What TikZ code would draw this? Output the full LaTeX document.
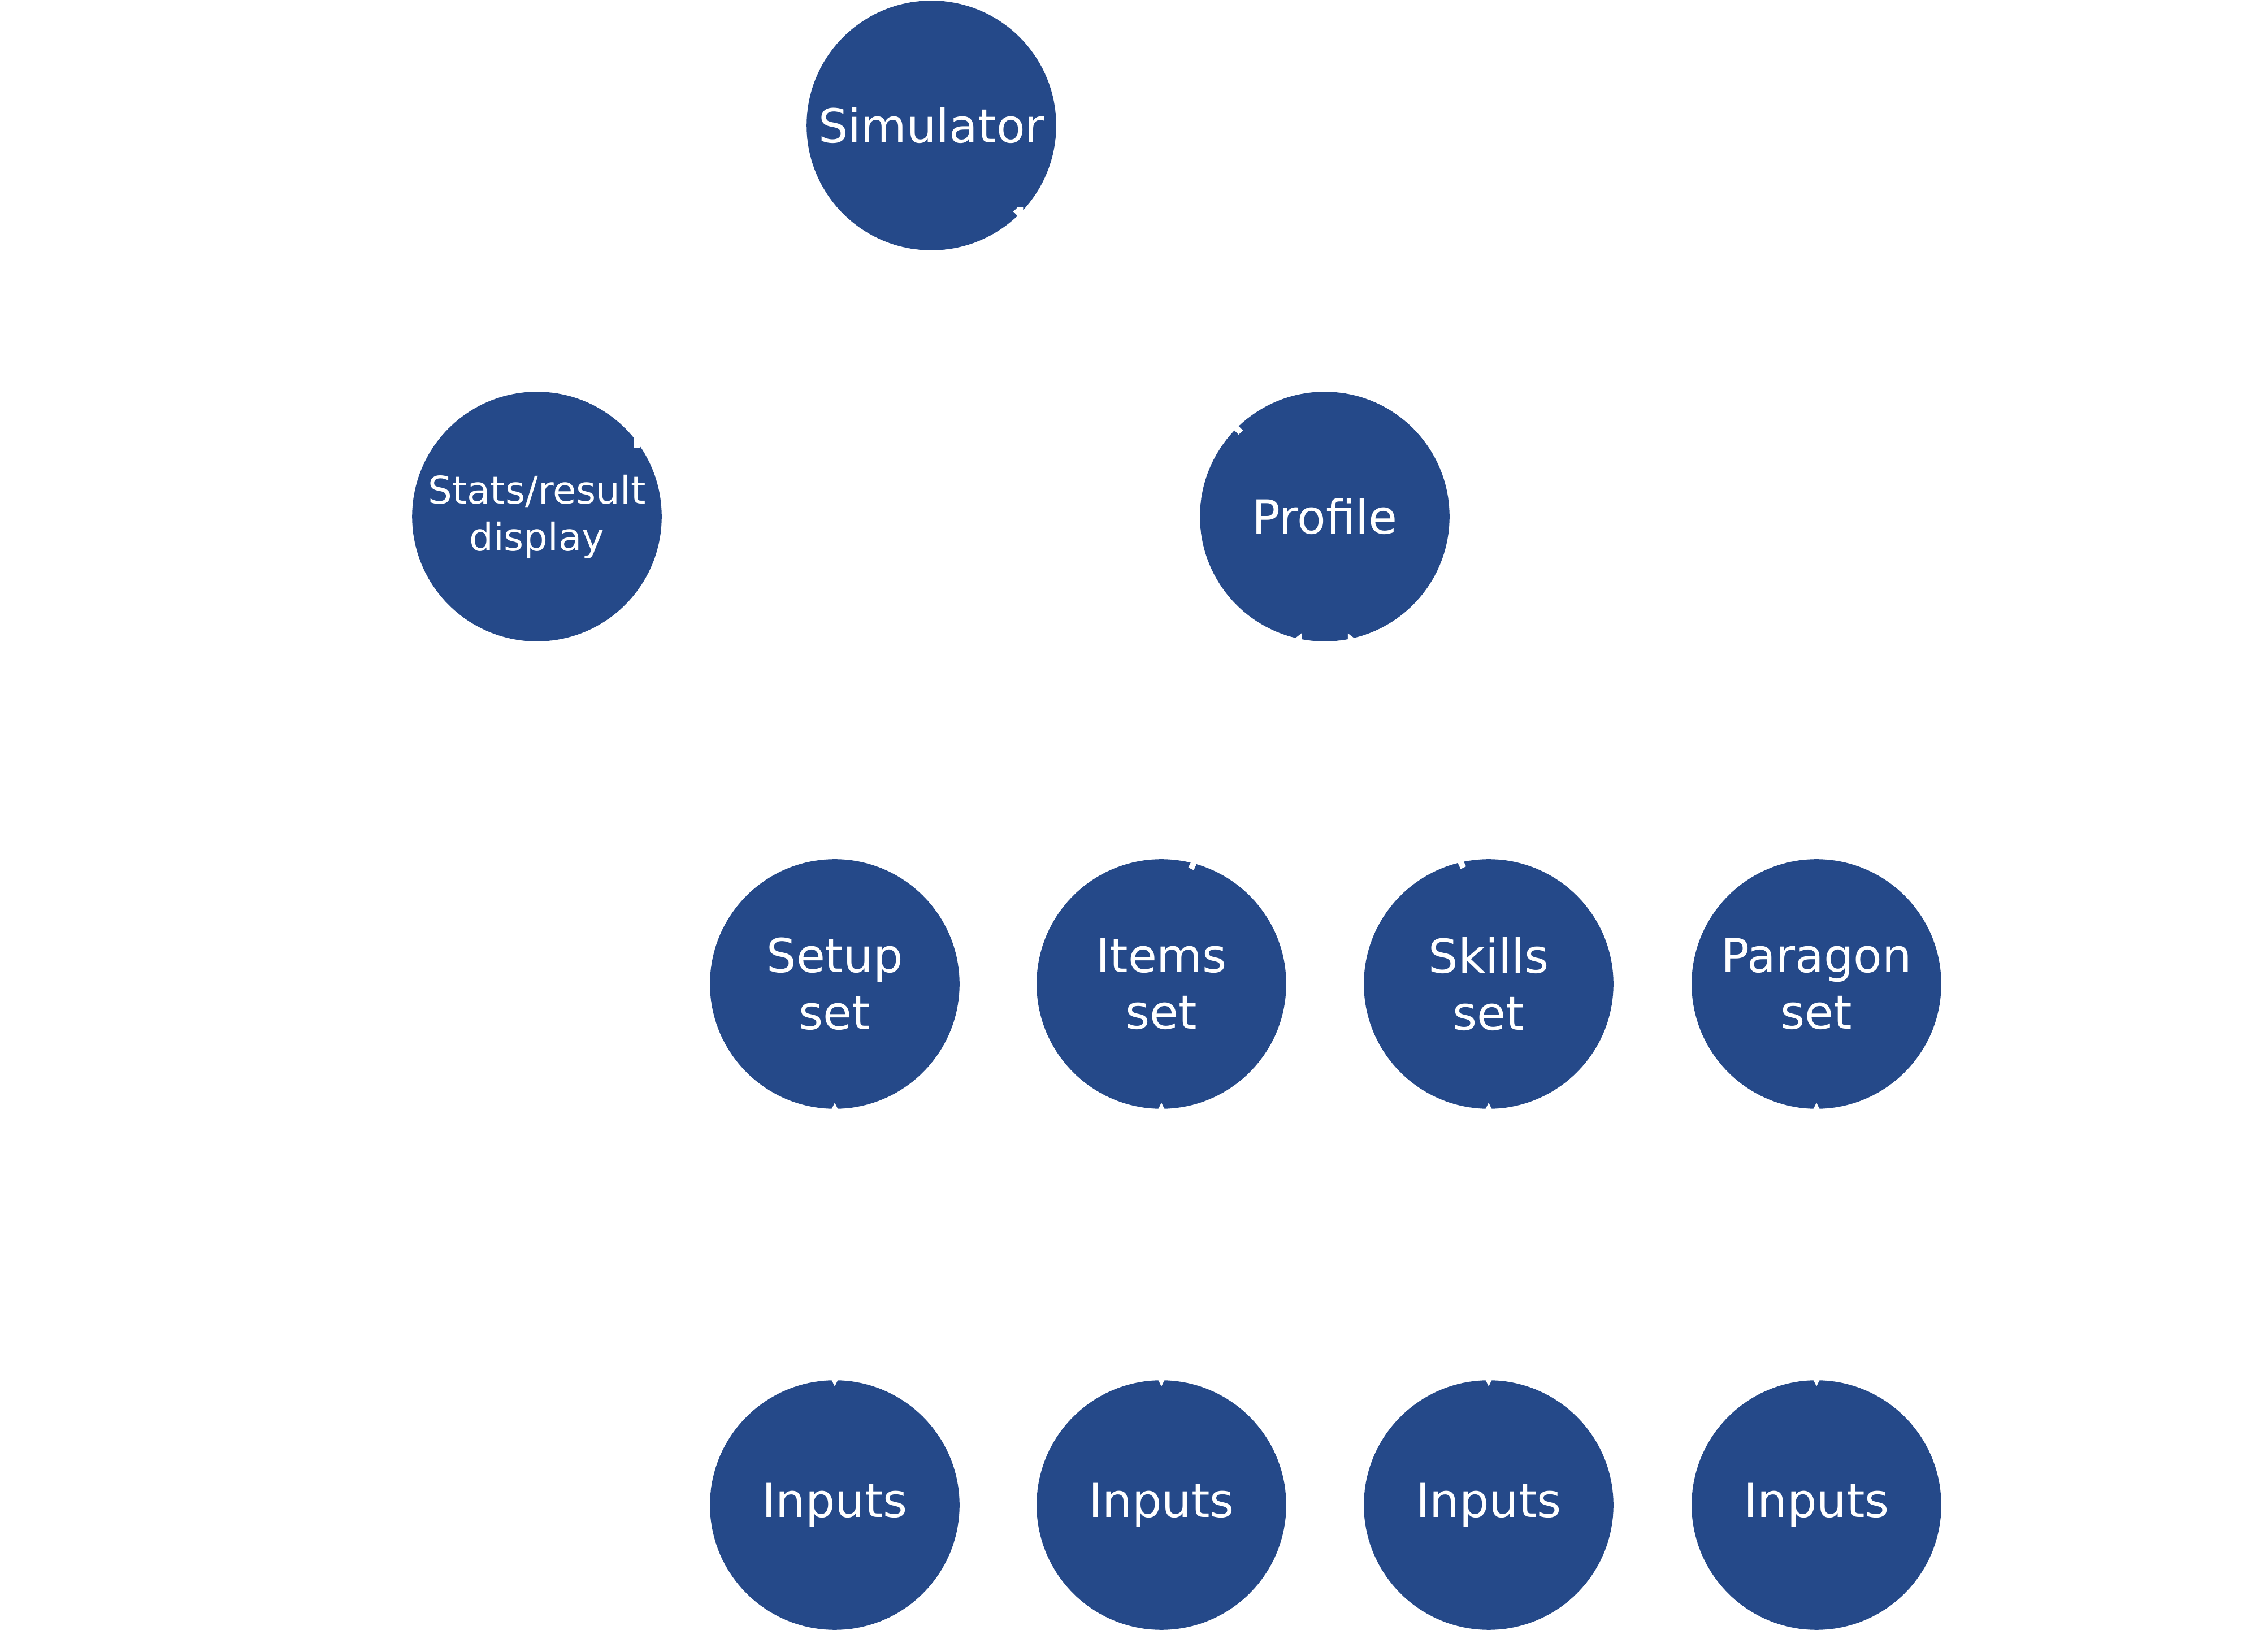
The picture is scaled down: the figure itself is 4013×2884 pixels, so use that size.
\documentclass[tikz,border=0pt]{standalone}
\usepackage{fontspec}
\setmainfont{DejaVu Sans}
\usepackage{tikz}
\definecolor{bb}{RGB}{37, 73, 137}

\begin{document}
\begin{tikzpicture}[x=0.005cm, y=-0.005cm,
  blob/.style={circle, minimum size=2.21cm, inner sep=0pt, fill=bb, text=white, align=center, font=\fontsize{11.8}{14.3}\selectfont},
  small blob/.style={blob, font=\fontsize{9.6}{11.8}\selectfont},
  link/.style={white, line width=1.5pt, shorten >=-0.06cm, shorten <=-0.06cm}]
\useasboundingbox (0,0) rectangle (4013,2884);
\node (sim) [blob] at (1648, 222) {Simulator};
\node (stats) [small blob] at (950, 914) {Stats/result\\display};
\node (prof) [blob] at (2344, 914) {Profile};
\node (setup) [blob] at (1477, 1741) {Setup\\set};
\node (items) [blob] at (2055, 1741) {Items\\set};
\node (skills) [blob] at (2634, 1741) {Skills\\set};
\node (para) [blob] at (3214, 1741) {Paragon\\set};
\node (in1) [blob] at (1477, 2663) {Inputs};
\node (in2) [blob] at (2055, 2663) {Inputs};
\node (in3) [blob] at (2634, 2663) {Inputs};
\node (in4) [blob] at (3214, 2663) {Inputs};
\coordinate (bend) at (1804, 530);
\draw [link] (sim.-45) -- (bend) -| (stats.37);
\draw [link] (prof.135) to (sim.-45);
\draw [link, -stealth] (items.75) to (prof.-102);
\draw [link, -stealth] (skills.103) to (prof.-78);
\draw [link, stealth-stealth] (setup) to (in1);
\draw [link, stealth-stealth] (items) to (in2);
\draw [link, stealth-stealth] (skills) to (in3);
\draw [link, stealth-stealth] (para) to (in4);
\end{tikzpicture}
\end{document}
